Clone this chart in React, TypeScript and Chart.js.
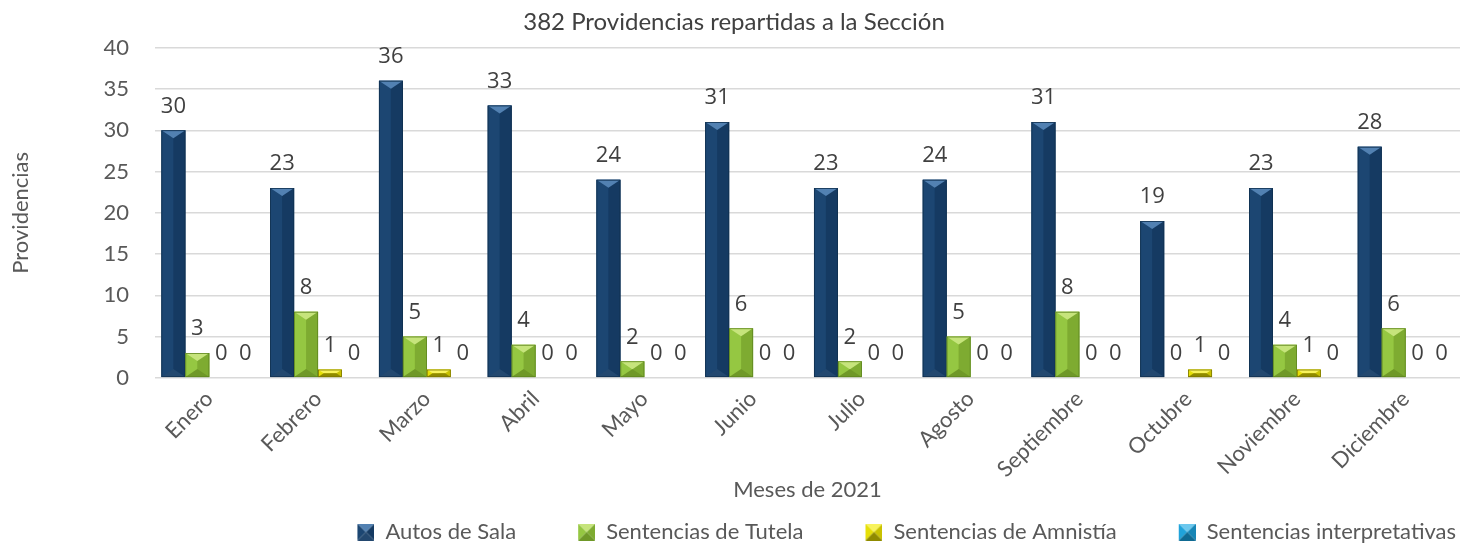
import React, { useEffect, useRef } from "react";
import { Chart, registerables } from "chart.js";

Chart.register(...registerables);

const months = ["Enero", "Febrero", "Marzo", "Abril", "Mayo", "Junio", "Julio", "Agosto", "Septiembre", "Octubre", "Noviembre", "Diciembre"];
const autosDeSala = [30, 23, 36, 33, 24, 31, 23, 24, 31, 19, 23, 28];
const sentenciasTutela = [3, 8, 5, 4, 2, 6, 2, 5, 8, 0, 4, 6];
const sentenciasAmnistia = [0, 1, 1, 0, 0, 0, 0, 0, 0, 1, 1, 0];
const sentenciasInterpretativas = [0, 0, 0, 0, 0, 0, 0, 0, 0, 0, 0, 0];
const seriesNames = ["Autos de Sala", "Sentencias de Tutela", "Sentencias de Amnistía", "Sentencias interpretativas"];
const yTicks = [0, 5, 10, 15, 20, 25, 30, 35, 40];

type Pal = { base: string; top: string; left: string; right: string; bottom: string; edge: string };
const palettes: Pal[] = [
  { base: "#1b4470", top: "#5281b2", left: "#1c4672", right: "#153a62", bottom: "#23486f", edge: "#10304f" },
  { base: "#92c43f", top: "#c6e47c", left: "#95c742", right: "#7eab31", bottom: "#6f9828", edge: "#5f8620" },
  { base: "#e3dc00", top: "#f8f35c", left: "#e6df08", right: "#c9c200", bottom: "#8f8a00", edge: "#7c7700" },
  { base: "#1d9fd6", top: "#6cc8ee", left: "#20a3da", right: "#1786b6", bottom: "#0f6a92", edge: "#0d5a7c" },
];

const LEGEND_GAP = 58;
const LEGEND_BOX = 17;

function poly(ctx: CanvasRenderingContext2D, pts: number[][], color: string) {
  ctx.beginPath();
  ctx.moveTo(pts[0][0], pts[0][1]);
  for (let i = 1; i < pts.length; i++) ctx.lineTo(pts[i][0], pts[i][1]);
  ctx.closePath();
  ctx.fillStyle = color;
  ctx.fill();
}

function drawBevel(ctx: CanvasRenderingContext2D, x0: number, y0: number, x1: number, y1: number, p: Pal, bRatio: number) {
  const w = x1 - x0;
  const h = y1 - y0;
  if (h < 0.5 || w < 0.5) return;
  const b = Math.min(w * bRatio, h / 2);
  const inset = Math.min(w / 2, b * (0.5 / bRatio));
  const xc = (x0 + x1) / 2;
  ctx.save();
  poly(ctx, [[x0, y0], [xc, y0], [xc, y1], [x0, y1]], p.left);
  poly(ctx, [[xc, y0], [x1, y0], [x1, y1], [xc, y1]], p.right);
  poly(ctx, [[x0, y0], [x1, y0], [x1 - inset, y0 + b], [x0 + inset, y0 + b]], p.top);
  poly(ctx, [[x0, y1], [x1, y1], [x1 - inset, y1 - b], [x0 + inset, y1 - b]], p.bottom);
  ctx.strokeStyle = p.edge;
  ctx.lineWidth = 0.8;
  ctx.strokeRect(x0 + 0.4, y0 + 0.4, w - 0.8, h - 0.8);
  ctx.restore();
}

function legendIcon(p: Pal): HTMLCanvasElement {
  const c = document.createElement("canvas");
  c.width = LEGEND_BOX + LEGEND_GAP;
  c.height = LEGEND_BOX;
  const ctx = c.getContext("2d")!;
  const x0 = LEGEND_GAP, y0 = 0, x1 = LEGEND_GAP + LEGEND_BOX, y1 = LEGEND_BOX;
  const xc = (x0 + x1) / 2, yc = (y0 + y1) / 2;
  poly(ctx, [[x0, y0], [xc, yc], [x0, y1]], p.left);
  poly(ctx, [[x1, y0], [xc, yc], [x1, y1]], p.right);
  poly(ctx, [[x0, y0], [x1, y0], [xc, yc]], p.top);
  poly(ctx, [[x0, y1], [x1, y1], [xc, yc]], p.bottom);
  return c;
}

const bevelPlugin = {
  id: "bevelBars",
  afterDatasetsDraw(chart: any) {
    const ctx = chart.ctx as CanvasRenderingContext2D;
    chart.data.datasets.forEach((ds: any, di: number) => {
      const meta = chart.getDatasetMeta(di);
      const p = palettes[di];
      meta.data.forEach((el: any, i: number) => {
        const { x, y, base, width } = el.getProps(["x", "y", "base", "width"], true);
        drawBevel(ctx, x - width / 2, Math.min(y, base), x + width / 2, Math.max(y, base), p, 1 / 3);
        ctx.save();
        ctx.font = "22px 'Open Sans', sans-serif";
        ctx.fillStyle = "#404040";
        ctx.textAlign = "center";
        ctx.textBaseline = "middle";
        ctx.fillText(String(ds.data[i]), x, y - 24);
        ctx.restore();
      });
    });
  },
};

export default function App() {
  const ref = useRef<HTMLCanvasElement | null>(null);
  useEffect(() => {
    document.body.style.margin = "0";
    const icons = palettes.map(legendIcon);
    const series = [autosDeSala, sentenciasTutela, sentenciasAmnistia, sentenciasInterpretativas];
    const chart = new Chart(ref.current!, {
      type: "bar",
      data: {
        labels: months,
        datasets: series.map((d, i) => ({
          label: seriesNames[i],
          data: d,
          backgroundColor: palettes[i].base,
          borderWidth: 0,
          barPercentage: 1,
          categoryPercentage: 0.88,
          pointStyle: icons[i] as any,
        })),
      },
      options: {
        animation: false,
        responsive: false,
        maintainAspectRatio: false,
        layout: { padding: { left: 8, right: 2, top: 0, bottom: -8 } },
        plugins: {
          tooltip: { enabled: false },
          title: {
            display: true,
            text: "382 Providencias repartidas a la Sección",
            color: "#404040",
            font: { family: "Lato", size: 24, weight: "normal" },
            padding: { top: 8, bottom: 11 },
          },
          legend: {
            position: "bottom",
            align: "end",
            labels: {
              usePointStyle: true,
              pointStyleWidth: LEGEND_BOX + LEGEND_GAP,
              boxHeight: LEGEND_BOX,
              padding: 4,
              color: "#595959",
              font: { family: "Lato", size: 22 },
            },
          },
        },
        scales: {
          x: {
            grid: { display: false, drawTicks: false },
            border: { display: false },
            ticks: {
              color: "#595959",
              font: { family: "Lato", size: 22 },
              maxRotation: 45,
              minRotation: 45,
              padding: 8,
            },
            title: {
              display: true,
              text: "Meses de 2021",
              color: "#595959",
              font: { family: "Lato", size: 22 },
              padding: { top: -14, bottom: 14 },
            },
          },
          y: {
            min: 0,
            max: 40,
            afterBuildTicks: (axis: any) => {
              axis.ticks = yTicks.map((v) => ({ value: v }));
            },
            grid: { color: "#d9d9d9", lineWidth: 1.5, drawTicks: false },
            border: { display: false },
            ticks: {
              color: "#595959",
              font: { family: "Lato", size: 22 },
              padding: 26,
            },
            title: {
              display: true,
              text: "Providencias",
              color: "#595959",
              font: { family: "Lato", size: 22 },
              padding: { top: 0, bottom: 43 },
            },
          },
        },
      },
      plugins: [bevelPlugin],
    });
    return () => chart.destroy();
  }, []);
  return (
    <div style={{ position: "absolute", left: 0, top: 0, width: 1462, height: 545 }}>
      <canvas ref={ref} width={1462} height={545} style={{ width: 1462, height: 545 }} />
    </div>
  );
}
